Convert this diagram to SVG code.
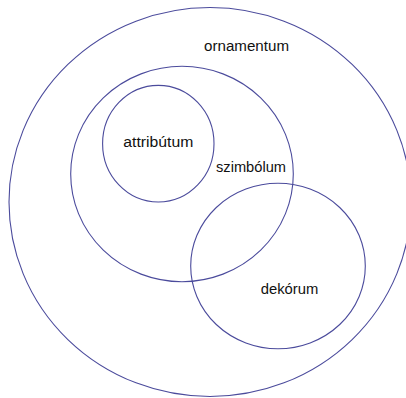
<svg xmlns="http://www.w3.org/2000/svg" width="406" height="398" viewBox="0 0 406 398">
<style>
.c{fill:none;stroke:#4b4b9c;stroke-width:1.1}
.t{font-family:"Liberation Sans",Arial,sans-serif;font-size:14px;fill:#111}
</style>
<rect width="406" height="398" fill="#fff"/>
<g id="ornamentum"><ellipse class="c" cx="210" cy="202" rx="201" ry="194.5"/><text class="t" x="204" y="51" textLength="85" lengthAdjust="spacingAndGlyphs">ornamentum</text></g>
<g id="szimbolum"><ellipse class="c" cx="182" cy="174" rx="111.3" ry="107.7"/><text class="t" x="216" y="172" textLength="70" lengthAdjust="spacingAndGlyphs">szimbólum</text></g>
<g id="attributum"><ellipse class="c" cx="158.3" cy="143.7" rx="55.7" ry="58.3"/><text class="t" x="123.3" y="147" textLength="70" lengthAdjust="spacingAndGlyphs">attribútum</text></g>
<g id="dekorum"><ellipse class="c" cx="278" cy="266" rx="87.3" ry="82.7"/><text class="t" x="260.7" y="293.5" textLength="57.6" lengthAdjust="spacingAndGlyphs">dekórum</text></g>
<g id="connectors"/>
</svg>
